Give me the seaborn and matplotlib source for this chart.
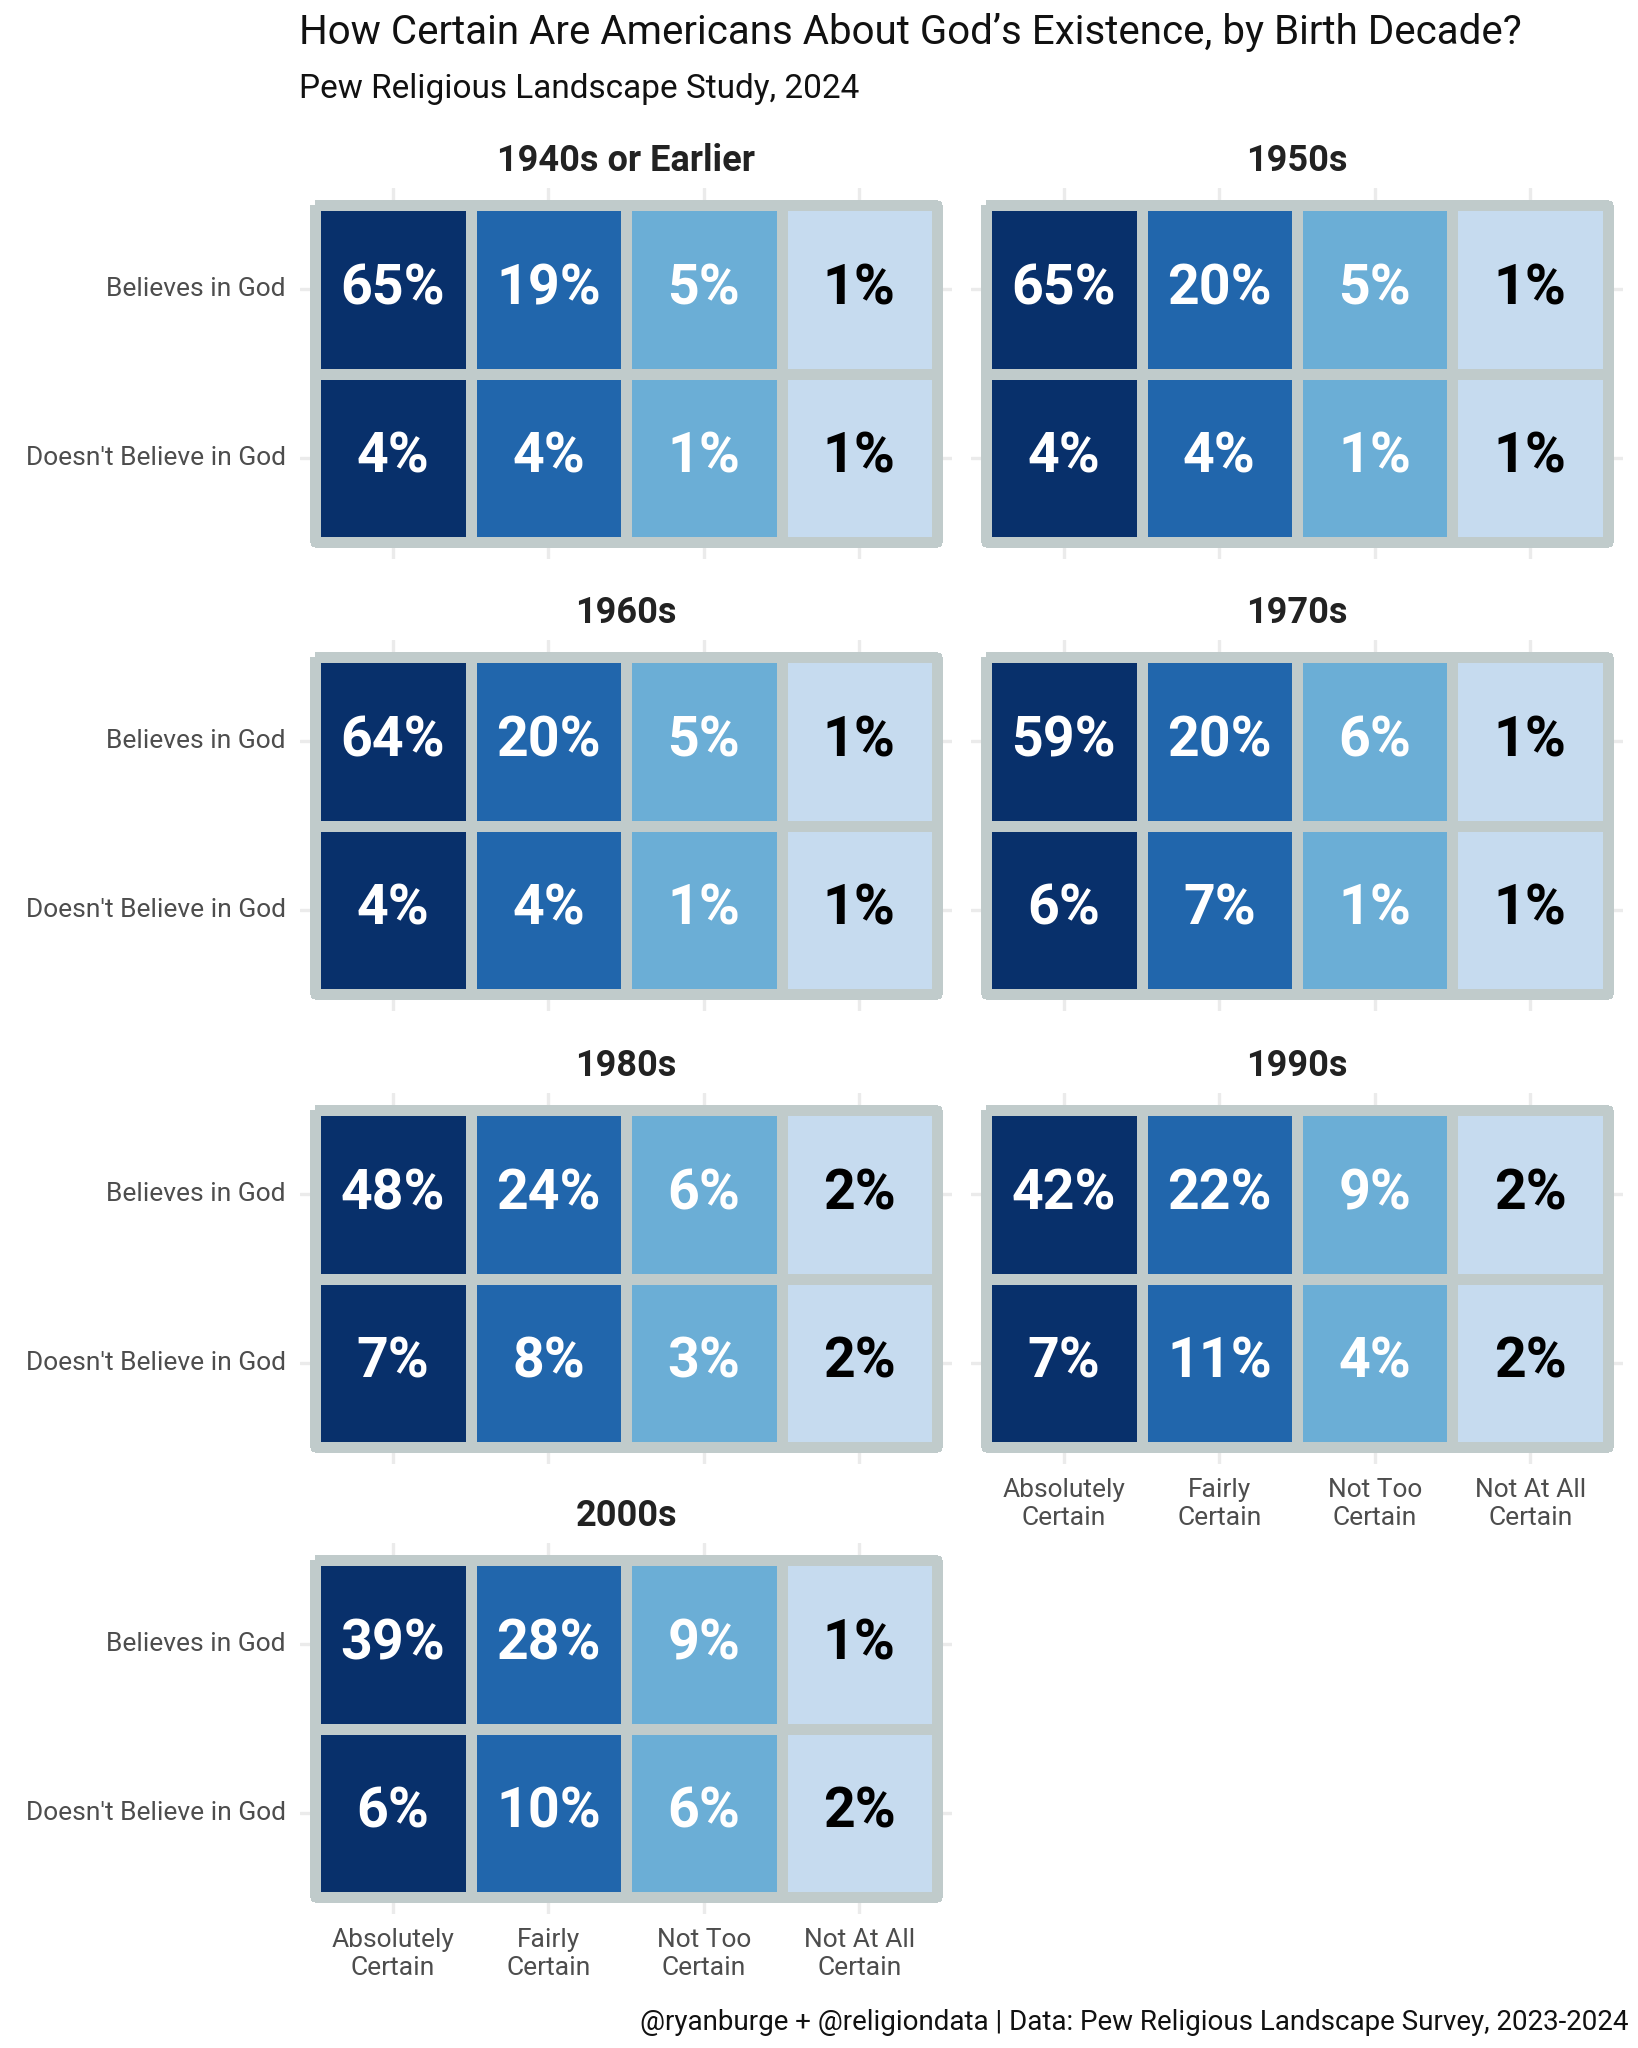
import numpy as np
import matplotlib
matplotlib.use("Agg")
import matplotlib.pyplot as plt
from matplotlib.colors import ListedColormap
import seaborn as sns

# data
decades = ["1940s or Earlier", "1950s", "1960s", "1970s", "1980s", "1990s", "2000s"]
certainty = ["Absolutely\nCertain", "Fairly\nCertain", "Not Too\nCertain", "Not At All\nCertain"]
belief = ["Believes in God", "Doesn't Believe in God"]
believes = [[65, 19, 5, 1], [65, 20, 5, 1], [64, 20, 5, 1], [59, 20, 6, 1],
            [48, 24, 6, 2], [42, 22, 9, 2], [39, 28, 9, 1]]
not_believes = [[4, 4, 1, 1], [4, 4, 1, 1], [4, 4, 1, 1], [6, 7, 1, 1],
                [7, 8, 3, 2], [7, 11, 4, 2], [6, 10, 6, 2]]

tile_colors = ["#08306B", "#2166AC", "#6BAED6", "#C6DBEF"]
text_colors = ["white", "white", "white", "black"]
border = "#C0CBCB"

sns.set_theme(style="white")
plt.rcParams['font.family'] = ['Roboto', 'DejaVu Sans']

fig = plt.figure(figsize=(8.19, 10.24), dpi=200)

# panel positions (left, bottom) in figure fraction
lefts = [0.1830, 0.5926]
bottoms = [0.7270, 0.5063, 0.2851, 0.0654]
w, h = 0.3985, 0.1812

col_idx = np.tile(np.arange(len(certainty)), (len(belief), 1))

for i, dec in enumerate(decades):
    r, c = divmod(i, 2)
    ax = fig.add_axes([lefts[c], bottoms[r], w, h])
    vals = np.array([believes[i], not_believes[i]])
    labels = np.array([[f"{v}%" for v in row] for row in vals])
    sns.heatmap(col_idx, cmap=ListedColormap(tile_colors), vmin=-0.5, vmax=3.5,
                annot=labels, fmt="", cbar=False, linewidths=3.3, linecolor=border,
                annot_kws={"size": 20, "weight": "bold"}, ax=ax)
    mesh = ax.collections[0]
    mesh.set_clip_on(False)
    mesh.set_joinstyle("miter")
    # text colour follows the column
    for t in ax.texts:
        x = t.get_position()[0]
        t.set_color(text_colors[int(x)])
    ax.set_xlim(-0.1, 4.1)
    ax.set_ylim(2.1, -0.1)
    ax.set_xticks(np.arange(4) + 0.5)
    ax.set_yticks(np.arange(2) + 0.5)
    ax.set_xticklabels(certainty, rotation=0)
    ax.set_yticklabels(belief, rotation=0)
    bottom_panel = (i == 5) or (i == 6)
    ax.tick_params(length=0, labelsize=9.5, labelcolor="#4D4D4D", pad=5,
                   labelbottom=bottom_panel, labelleft=(c == 0))
    ax.grid(True, color="#EBEBEB", lw=1.2)
    ax.set_axisbelow(True)
    ax.set_xlabel("")
    ax.set_ylabel("")
    ax.set_title(dec, fontsize=13, fontweight="bold", color="#222222", pad=6)

fig.text(0.1828, 1 - 33 / 2048, "How Certain Are Americans About God\u2019s Existence, by Birth Decade?",
         fontsize=14.5, color="#111111", va="center", ha="left")
fig.text(0.1828, 1 - 89 / 2048, "Pew Religious Landscape Study, 2024",
         fontsize=12, color="#111111", va="center", ha="left")
fig.text(0.994, 1 - 2022 / 2048, "@ryanburge + @religiondata | Data: Pew Religious Landscape Survey, 2023-2024",
         fontsize=10, color="#111111", va="center", ha="right")

fig.savefig("out.png", dpi=200, facecolor="white")
